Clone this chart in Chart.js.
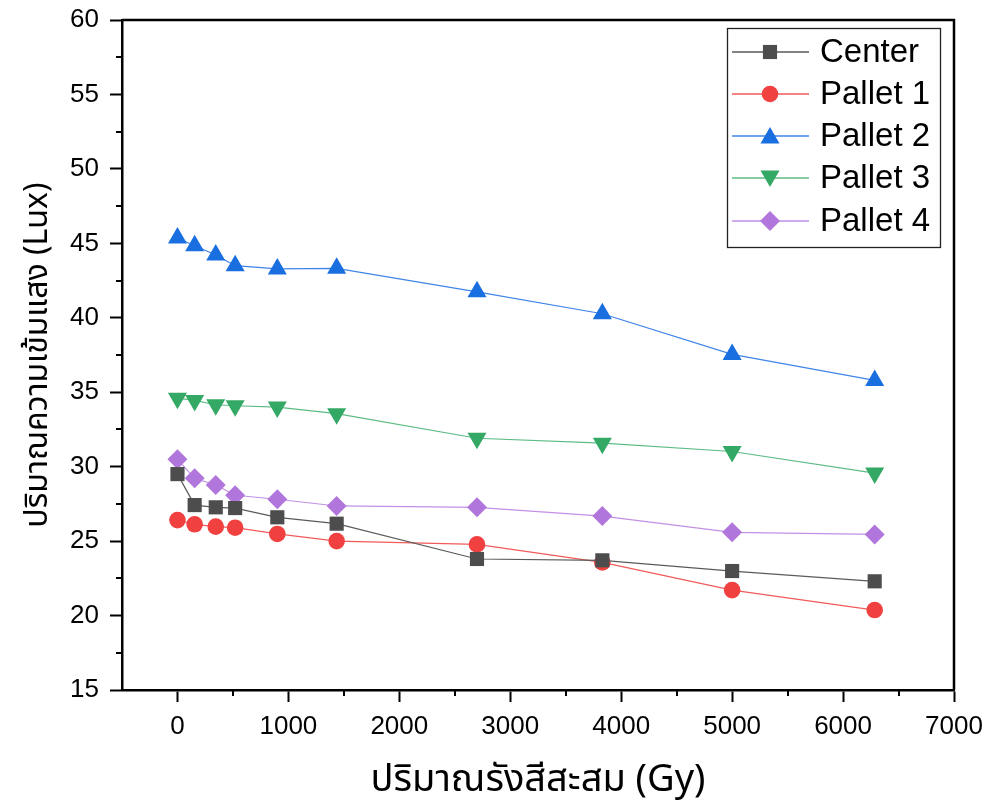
<!DOCTYPE html>
<html><head><meta charset="utf-8">
<script src="https://cdn.jsdelivr.net/npm/chart.js@4/dist/chart.umd.min.js"></script>
<style>html,body{margin:0;padding:0;background:#fff}canvas{display:block}</style>
</head><body>
<canvas id="c" width="993" height="809"></canvas>
<script>
// ---- data ----
const doses   = [0, 155, 345, 520, 900, 1435, 2700, 3830, 5000, 6285];
const center  = [29.5, 27.42, 27.27, 27.22, 26.6, 26.17, 23.8, 23.71, 22.99, 22.3];
const pallet1 = [26.41, 26.13, 25.97, 25.9, 25.48, 25.0, 24.78, 23.57, 21.71, 20.37];
const pallet2 = [45.36, 44.84, 44.22, 43.5, 43.28, 43.32, 41.74, 40.27, 37.54, 35.79];
const pallet3 = [34.6, 34.45, 34.16, 34.09, 34.0, 33.56, 31.91, 31.58, 31.02, 29.57];
const pallet4 = [30.49, 29.22, 28.77, 28.08, 27.81, 27.36, 27.27, 26.68, 25.59, 25.45];
const seriesNames = ['Center', 'Pallet 1', 'Pallet 2', 'Pallet 3', 'Pallet 4'];
const xTicks = [0, 1000, 2000, 3000, 4000, 5000, 6000, 7000];
const yTicks = [15, 20, 25, 30, 35, 40, 45, 50, 55, 60];
const xTitle = 'ปริมาณรังสีสะสม (Gy)';
const yTitle = 'ปริมาณความเข้มแสง (Lux)';

const LATIN = '"Liberation Sans", Arial, sans-serif';
const THAI = '"Noto Sans Thai", "Noto Sans", "DejaVu Sans", sans-serif';

function pts(ys){ return doses.map((x,i)=>({x:x, y:ys[i]})); }
const styles = [
  {marker:'#4d4d4d', line:'#5a5a5a', pointStyle:'rect', r:10, rot:0},
  {marker:'#f04040', line:'#f25a5a', pointStyle:'circle', r:8.3, rot:0},
  {marker:'#1a6fe0', line:'#3f85e8', pointStyle:'triangle', r:11, rot:0},
  {marker:'#34a865', line:'#5cbb84', pointStyle:'triangle', r:11, rot:180},
  {marker:'#b176dc', line:'#c290e5', pointStyle:'rectRot', r:10, rot:0},
];
const allSeries = [center, pallet1, pallet2, pallet3, pallet4];
const datasets = allSeries.map((s,i)=>({
  label: seriesNames[i],
  data: pts(s),
  borderColor: styles[i].line,
  borderWidth: 1.2,
  backgroundColor: styles[i].marker,
  pointBackgroundColor: styles[i].marker,
  pointBorderColor: styles[i].marker,
  pointBorderWidth: 0,
  pointStyle: styles[i].pointStyle,
  pointRadius: styles[i].r,
  pointRotation: styles[i].rot,
  pointHoverRadius: styles[i].r,
  tension: 0,
  fill: false
}));

const framePlugin = {
  id: 'frame',
  afterDraw(chart){
    const ctx = chart.ctx, a = chart.chartArea;
    const xs = chart.scales.x, ys = chart.scales.y;
    ctx.save();
    ctx.strokeStyle = '#000';
    ctx.lineWidth = 2.5;
    ctx.beginPath();
    ctx.moveTo(a.left, a.top); ctx.lineTo(a.right, a.top); ctx.lineTo(a.right, a.bottom);
    ctx.stroke();
    // minor ticks
    ctx.lineWidth = 2;
    ctx.beginPath();
    for (let i=0;i<yTicks.length-1;i++){
      const v = (yTicks[i]+yTicks[i+1])/2;
      const py = Math.round(ys.getPixelForValue(v));
      ctx.moveTo(a.left, py); ctx.lineTo(a.left-6, py);
    }
    for (let i=0;i<xTicks.length-1;i++){
      const v = (xTicks[i]+xTicks[i+1])/2;
      const px = Math.round(xs.getPixelForValue(v));
      ctx.moveTo(px, a.bottom); ctx.lineTo(px, a.bottom+6);
    }
    ctx.stroke();
    // legend
    const bx = 727, by = 28, bw = 213, bh = 219;
    ctx.fillStyle = '#fff';
    ctx.fillRect(bx, by, bw, bh);
    ctx.lineWidth = 1.3;
    ctx.strokeStyle = '#222';
    ctx.strokeRect(bx+0.5, by+0.5, bw, bh);
    const rowY = [52, 94, 136, 178, 221];
    chart.data.datasets.forEach((d,i)=>{
      const y = rowY[i];
      ctx.strokeStyle = d.borderColor;
      ctx.lineWidth = 1.3;
      ctx.beginPath(); ctx.moveTo(732, y); ctx.lineTo(809, y); ctx.stroke();
      ctx.fillStyle = d.pointBackgroundColor;
      ctx.strokeStyle = d.pointBackgroundColor;
      Chart.helpers.drawPoint(ctx, {pointStyle: d.pointStyle, rotation: d.pointRotation, radius: d.pointRadius, borderWidth: 0},
        770, y + (d.pointStyle==='triangle' ? (d.pointRotation ? -2 : 2) : 0));
      ctx.fillStyle = '#000';
      ctx.font = '33px ' + LATIN;
      ctx.textBaseline = 'middle';
      ctx.textAlign = 'left';
      ctx.fillText(d.label, 820, y + 1);
    });
    ctx.restore();
  }
};

new Chart(document.getElementById('c'), {
  type: 'line',
  data: { datasets },
  options: {
    responsive: false,
    animation: false,
    devicePixelRatio: 1,
    layout: { padding: { top: 20, right: 39, left: 0, bottom: 0 } },
    plugins: { legend: { display: false }, tooltip: { enabled: false } },
    scales: {
      x: {
        type: 'linear',
        min: -500, max: 7000,
        afterFit(s){ s.height = 119; s.paddingLeft = 0; s.paddingRight = 0; },
        afterBuildTicks(s){ s.ticks = xTicks.map(v=>({value:v})); },
        grid: { display: true, drawOnChartArea: false, drawTicks: true, tickLength: 12, tickWidth: 2, tickColor: '#000' },
        border: { display: true, color: '#000', width: 2.5 },
        ticks: { color: '#000', font: { family: LATIN, size: 26 }, padding: 9, maxRotation: 0, autoSkip: false,
                 callback: v => String(v) },
        title: { display: true, text: xTitle, color: '#000', font: { family: THAI, size: 38 }, padding: { top: 0, bottom: 3 } }
      },
      y: {
        type: 'linear',
        min: 15, max: 60,
        afterFit(s){ s.width = 122; s.paddingTop = 0; s.paddingBottom = 0; },
        afterBuildTicks(s){ s.ticks = yTicks.map(v=>({value:v})); },
        grid: { display: true, drawOnChartArea: false, drawTicks: true, tickLength: 12, tickWidth: 2, tickColor: '#000' },
        border: { display: true, color: '#000', width: 2.5 },
        ticks: { color: '#000', font: { family: LATIN, size: 26 }, padding: 11, autoSkip: false,
                 callback: v => String(v) },
        title: { display: true, text: yTitle, color: '#000', font: { family: THAI, size: 32 }, padding: { top: 21, bottom: 0 } }
      }
    }
  },
  plugins: [framePlugin]
});
</script>
</body></html>
